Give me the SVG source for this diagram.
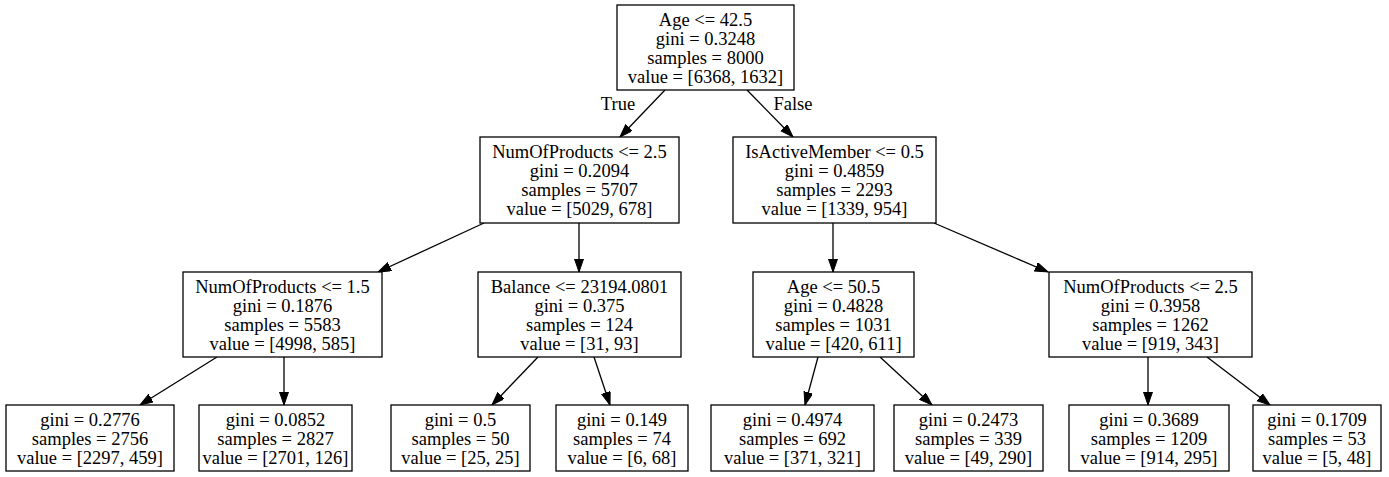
<svg xmlns="http://www.w3.org/2000/svg" width="1389" height="477" viewBox="0 0 1389 477">
<style>
.box{fill:#fff;stroke:#000;stroke-width:1.3}
text{font-family:"Liberation Serif","Times New Roman",serif;font-size:18.5px;fill:#000;text-anchor:middle}
.edge{stroke:#000;stroke-width:1.3;fill:none;marker-end:url(#arr)}
</style>
<defs>
<marker id="arr" markerUnits="userSpaceOnUse" markerWidth="14" markerHeight="10" refX="13" refY="4.5" orient="auto">
<path d="M0,0 L13,4.5 L0,9 z" fill="#000" stroke="#000" stroke-width="1"/>
</marker>
</defs>
<rect width="1389" height="477" fill="#fff"/>
<g id="edges">
<line class="edge" x1="665" y1="90" x2="620" y2="137"/>
<line class="edge" x1="747" y1="90" x2="793" y2="137"/>
<line class="edge" x1="484" y1="223" x2="378" y2="272"/>
<line class="edge" x1="579" y1="223" x2="579" y2="272"/>
<line class="edge" x1="833" y1="223" x2="833" y2="272"/>
<line class="edge" x1="934" y1="223" x2="1048" y2="272"/>
<line class="edge" x1="217" y1="357" x2="140" y2="405"/>
<line class="edge" x1="284" y1="357" x2="284" y2="405"/>
<line class="edge" x1="538" y1="357" x2="492" y2="405"/>
<line class="edge" x1="594" y1="357" x2="610" y2="405"/>
<line class="edge" x1="818" y1="357" x2="805" y2="405"/>
<line class="edge" x1="880" y1="357" x2="932" y2="405"/>
<line class="edge" x1="1148" y1="357" x2="1148" y2="405"/>
<line class="edge" x1="1207" y1="357" x2="1270" y2="405"/>
<text x="618" y="110">True</text>
<text x="793" y="110">False</text>
</g>
<g id="n0">
<rect class="box" x="617" y="5" width="177" height="85"/>
<text x="705.5" y="26">Age &lt;= 42.5</text>
<text x="705.5" y="45">gini = 0.3248</text>
<text x="705.5" y="64">samples = 8000</text>
<text x="705.5" y="83">value = [6368, 1632]</text>
</g>
<g id="n1">
<rect class="box" x="480" y="137" width="199" height="86"/>
<text x="579.5" y="158">NumOfProducts &lt;= 2.5</text>
<text x="579.5" y="177">gini = 0.2094</text>
<text x="579.5" y="196">samples = 5707</text>
<text x="579.5" y="215">value = [5029, 678]</text>
</g>
<g id="n2">
<rect class="box" x="733" y="137" width="203" height="86"/>
<text x="834.5" y="158">IsActiveMember &lt;= 0.5</text>
<text x="834.5" y="177">gini = 0.4859</text>
<text x="834.5" y="196">samples = 2293</text>
<text x="834.5" y="215">value = [1339, 954]</text>
</g>
<g id="n3">
<rect class="box" x="183" y="272" width="199" height="85"/>
<text x="282.5" y="293">NumOfProducts &lt;= 1.5</text>
<text x="282.5" y="312">gini = 0.1876</text>
<text x="282.5" y="331">samples = 5583</text>
<text x="282.5" y="350">value = [4998, 585]</text>
</g>
<g id="n4">
<rect class="box" x="478" y="272" width="203" height="85"/>
<text x="579.5" y="293">Balance &lt;= 23194.0801</text>
<text x="579.5" y="312">gini = 0.375</text>
<text x="579.5" y="331">samples = 124</text>
<text x="579.5" y="350">value = [31, 93]</text>
</g>
<g id="n5">
<rect class="box" x="753" y="272" width="161" height="85"/>
<text x="833.5" y="293">Age &lt;= 50.5</text>
<text x="833.5" y="312">gini = 0.4828</text>
<text x="833.5" y="331">samples = 1031</text>
<text x="833.5" y="350">value = [420, 611]</text>
</g>
<g id="n6">
<rect class="box" x="1049" y="272" width="203" height="85"/>
<text x="1150.5" y="293">NumOfProducts &lt;= 2.5</text>
<text x="1150.5" y="312">gini = 0.3958</text>
<text x="1150.5" y="331">samples = 1262</text>
<text x="1150.5" y="350">value = [919, 343]</text>
</g>
<g id="n7">
<rect class="box" x="6" y="405" width="168" height="66"/>
<text x="90" y="426">gini = 0.2776</text>
<text x="90" y="445">samples = 2756</text>
<text x="90" y="464">value = [2297, 459]</text>
</g>
<g id="n8">
<rect class="box" x="199" y="405" width="153" height="66"/>
<text x="275.5" y="426">gini = 0.0852</text>
<text x="275.5" y="445">samples = 2827</text>
<text x="275.5" y="464">value = [2701, 126]</text>
</g>
<g id="n9">
<rect class="box" x="391" y="405" width="139" height="66"/>
<text x="460.5" y="426">gini = 0.5</text>
<text x="460.5" y="445">samples = 50</text>
<text x="460.5" y="464">value = [25, 25]</text>
</g>
<g id="n10">
<rect class="box" x="556" y="405" width="132" height="66"/>
<text x="622" y="426">gini = 0.149</text>
<text x="622" y="445">samples = 74</text>
<text x="622" y="464">value = [6, 68]</text>
</g>
<g id="n11">
<rect class="box" x="711" y="405" width="163" height="66"/>
<text x="792.5" y="426">gini = 0.4974</text>
<text x="792.5" y="445">samples = 692</text>
<text x="792.5" y="464">value = [371, 321]</text>
</g>
<g id="n12">
<rect class="box" x="894" y="405" width="149" height="66"/>
<text x="968.5" y="426">gini = 0.2473</text>
<text x="968.5" y="445">samples = 339</text>
<text x="968.5" y="464">value = [49, 290]</text>
</g>
<g id="n13">
<rect class="box" x="1069" y="405" width="160" height="66"/>
<text x="1149" y="426">gini = 0.3689</text>
<text x="1149" y="445">samples = 1209</text>
<text x="1149" y="464">value = [914, 295]</text>
</g>
<g id="n14">
<rect class="box" x="1253" y="405" width="128" height="66"/>
<text x="1317" y="426">gini = 0.1709</text>
<text x="1317" y="445">samples = 53</text>
<text x="1317" y="464">value = [5, 48]</text>
</g>
</svg>
